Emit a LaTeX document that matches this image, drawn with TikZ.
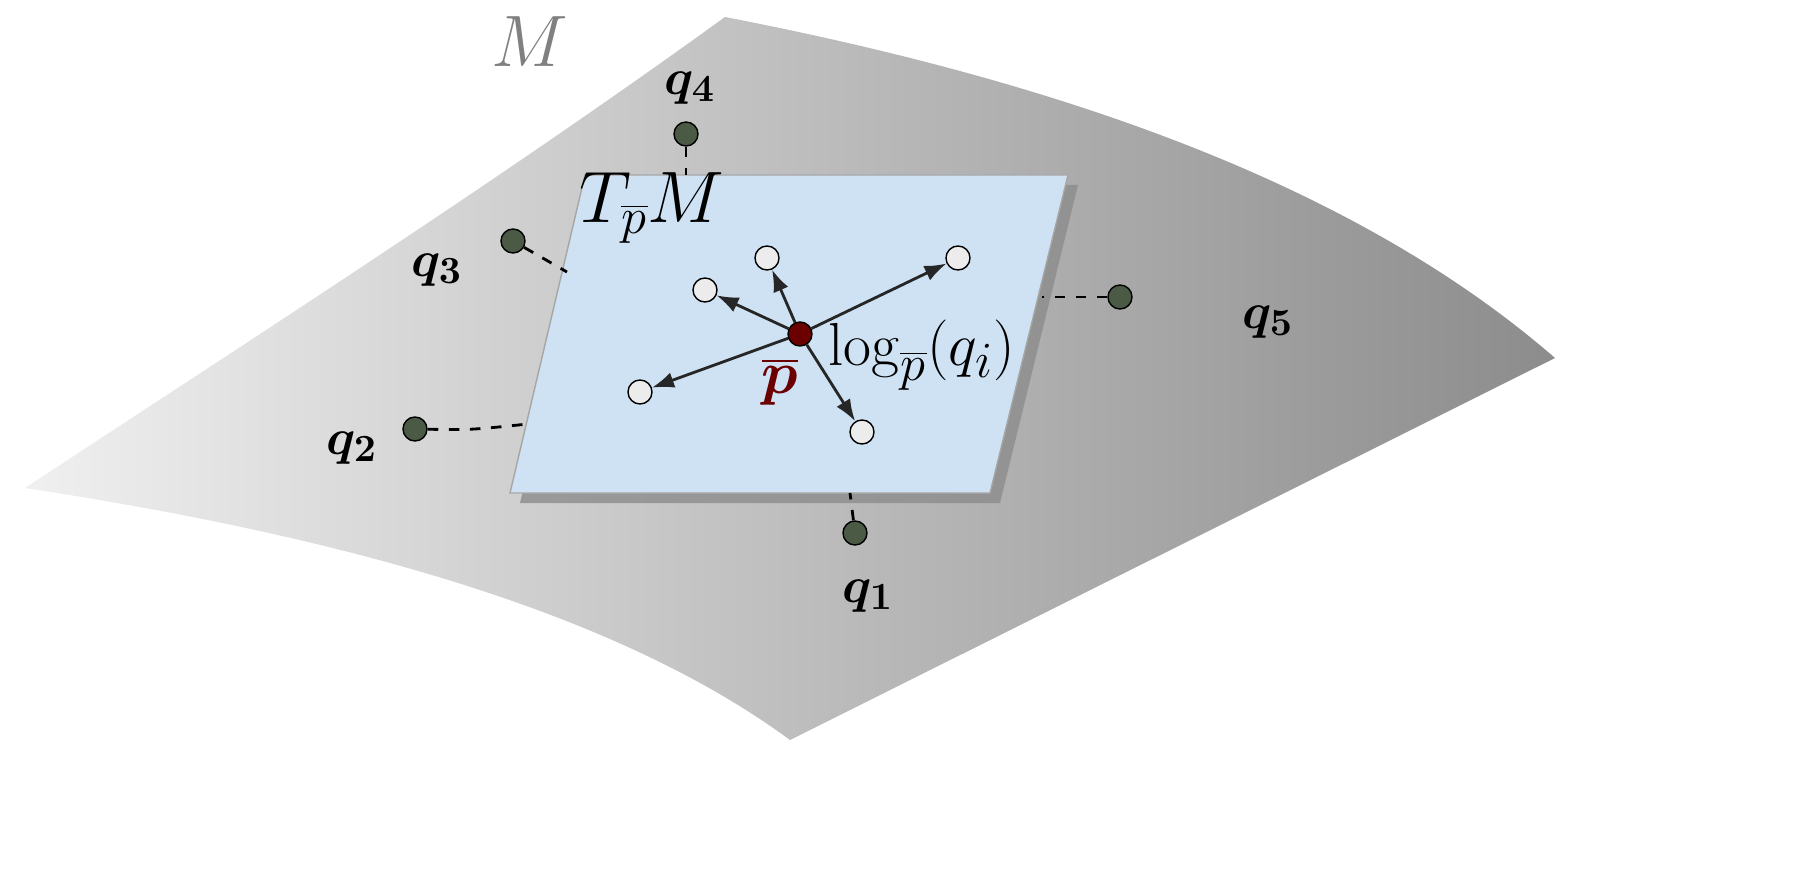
\documentclass[tikz,border=0pt]{standalone}
\usepackage{tikz}
\usepackage{bm}
\usetikzlibrary{arrows.meta}
\definecolor{planeblue}{HTML}{CFE2F3}
\definecolor{qgreen}{HTML}{4A5A45}
\definecolor{pred}{HTML}{6B0000}
\tikzset{
  qdot/.style={circle, draw=black, fill=qgreen, minimum size=0.24cm, inner sep=0pt},
  wdot/.style={circle, draw=black, fill=gray!15, minimum size=0.24cm, inner sep=0pt},
  logarrow/.style={-{Latex[length=2.2mm, width=1.6mm]}, thick, black!85},
  qlink/.style={dashed, thick},
  qlabel/.style={font=\fontsize{15}{18}\selectfont}
}
\begin{document}
\begin{tikzpicture}[x=0.01cm, y=-0.01cm]
  \useasboundingbox (0,0) rectangle (1800,870);
  % manifold
  \shade[left color=gray!12, right color=gray!90]
    (25,488) .. controls (250,340) and (500,180) .. (725,17)
    .. controls (1050,80) and (1350,180) .. (1555,358)
    -- (790,740)
    .. controls (600,600) and (300,530) .. (25,488) -- cycle;
  \node[text=gray, font=\fontsize{20}{24}\selectfont] (m) at (530,42) {$M$};

  % tangent plane with shadow
  \fill[black!45, opacity=0.8] (595,185) -- (1078,185) -- (1000,503) -- (520,503) -- cycle;
  \draw[fill=planeblue, draw=gray!70] (585,175) -- (1068,175) -- (990,493) -- (510,493) -- cycle;
  \node[font=\fontsize{21}{24}\selectfont] (tm) at (652,208) {$T_{\overline{p}}M$};

  % samples on manifold
  \node[qdot] (q1) at (855,533) {};
  \node[qdot] (q2) at (415,429) {};
  \node[qdot] (q3) at (513,241) {};
  \node[qdot] (q4) at (686,134) {};
  \node[qdot] (q5) at (1120,297) {};
  \coordinate (e1) at (850,493);
  \coordinate (e2) at (528,424);
  \coordinate (e3) at (567,272);
  \coordinate (e4) at (686,175);
  \coordinate (e5) at (1042,297);
  \draw[qlink] (q1) -- (e1);
  \draw[qlink] (q2) .. controls (470,430) .. (e2);
  \draw[qlink] (q3) -- (e3);
  \draw[qlink] (q4) -- (e4);
  \draw[qlink] (q5) -- (e5);
  \node[qlabel] (l1) at (868,596) {$\bm{q_1}$};
  \node[qlabel] (l2) at (352,448) {$\bm{q_2}$};
  \node[qlabel] (l3) at (437,270) {$\bm{q_3}$};
  \node[qlabel] (l4) at (690,88) {$\bm{q_4}$};
  \node[qlabel] (l5) at (1268,322) {$\bm{q_5}$};

  % log map
  \node[circle, draw=black, fill=pred, minimum size=0.24cm, inner sep=0pt] (p) at (800,334) {};
  \node[wdot] (w1) at (862,432) {};
  \node[wdot] (w2) at (640,392) {};
  \node[wdot] (w3) at (705,290) {};
  \node[wdot] (w4) at (767,258) {};
  \node[wdot] (w5) at (958,258) {};
  \foreach \w in {w1,w2,w3,w4,w5}
    \draw[logarrow] (p) -- (\w);
  \node[text=pred, font=\fontsize{17}{20}\selectfont] (pl) at (780,382) {$\bm{\overline{p}}$};
  \node[font=\fontsize{19}{22}\selectfont] (log) at (922,355) {$\log_{\overline{p}}(q_i)$};
\end{tikzpicture}
\end{document}
